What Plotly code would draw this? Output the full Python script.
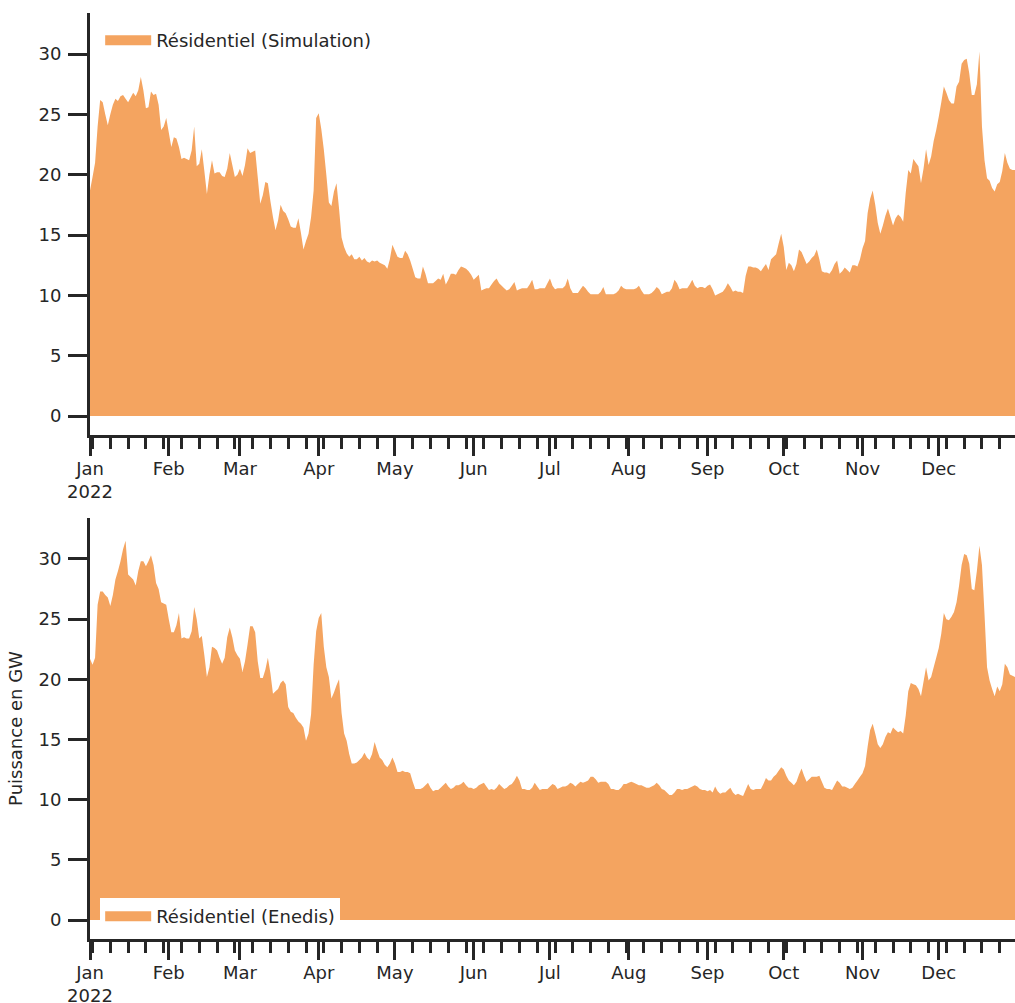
import pandas as pd
import plotly.graph_objects as go
from plotly.subplots import make_subplots

# ---- data (GW, daily 2022) ----
sim_jan = [18.7,19.8,21.0,24.0,26.2,26.0,25.0,24.1,25.0,25.8,26.3,26.1,26.5,26.6,26.3,26.0,26.4,26.8,26.5,27.0,28.1,27.0,25.5,25.6,26.9,26.6,26.7,25.8,23.7,24.0,24.7]
sim_feb = [23.5,22.3,23.1,23.0,22.3,21.3,21.4,21.3,21.2,22.0,24.0,20.7,20.9,22.1,20.3,18.4,20.0,21.2,20.1,20.2,20.2,19.9,19.8,20.5,21.8,20.8,19.8,20.0]
sim_mar = [20.5,19.9,20.8,22.2,21.8,21.9,22.0,19.8,17.6,18.3,19.4,19.3,17.8,16.5,15.4,16.2,17.5,17.0,16.8,16.3,15.7,15.6,15.6,16.4,15.2,13.8,14.5,15.1,16.5,18.7,24.7]
sim_apr = [25.1,23.8,22.1,20.0,17.7,17.4,18.6,19.3,17.2,14.8,14.0,13.5,13.2,13.4,13.0,13.0,13.2,12.9,13.1,12.8,12.7,12.9,12.8,12.9,12.7,12.6,12.5,12.2,13.0,14.2]
sim_may = [13.7,13.2,13.1,13.1,13.7,13.4,12.9,12.2,11.5,11.4,11.4,12.4,11.8,11.0,11.0,11.0,11.2,11.4,11.3,11.8,10.9,11.3,11.8,11.8,11.7,12.1,12.4,12.3,12.2,12.0,11.7]
sim_jun = [11.3,11.5,11.7,10.4,10.5,10.6,10.6,10.9,11.2,11.4,11.0,10.8,10.6,10.4,10.5,10.8,11.1,10.4,10.5,10.6,10.6,10.6,10.9,11.3,10.5,10.5,10.6,10.6,10.6,11.0]
sim_jul = [11.4,10.8,10.5,10.6,10.6,10.6,10.8,11.4,10.6,10.2,10.2,10.2,10.5,10.8,10.6,10.3,10.1,10.1,10.1,10.1,10.3,10.7,10.1,10.1,10.1,10.1,10.2,10.4,10.8,10.6,10.5]
sim_aug = [10.5,10.5,10.5,10.6,10.8,10.4,10.1,10.1,10.1,10.2,10.4,10.7,10.5,10.1,10.2,10.3,10.3,10.6,11.3,11.0,10.5,10.6,10.6,10.6,10.9,11.3,10.8,10.6,10.7,10.7,10.6]
sim_sep = [10.8,10.9,10.5,10.0,10.1,10.2,10.3,10.6,11.0,10.7,10.3,10.4,10.3,10.3,10.2,11.6,12.4,12.4,12.3,12.3,12.2,12.0,12.3,12.6,12.1,13.0,13.2,13.4,14.3,15.1]
sim_oct = [14.0,12.1,12.7,12.5,12.0,12.6,13.8,13.6,13.1,12.6,12.8,13.1,13.3,13.8,13.0,12.0,11.9,11.9,11.8,12.1,12.6,12.9,11.8,12.0,12.3,12.1,11.9,12.5,12.5,12.4,13.0]
sim_nov = [13.9,14.5,16.8,18.0,18.7,17.5,16.0,15.1,15.8,16.6,17.2,16.5,15.8,16.4,16.7,16.5,16.1,18.5,20.4,20.1,21.3,21.0,20.7,19.3,20.5,22.1,20.8,21.5,22.8,23.7]
sim_dec = [24.8,26.0,27.3,26.8,26.2,25.9,25.9,27.3,27.7,29.2,29.5,29.6,28.4,26.6,26.6,27.5,30.2,24.0,21.2,19.7,19.5,18.9,18.6,19.2,19.4,20.3,21.8,21.0,20.5,20.4,20.4]

ene_jan = [21.7,21.2,21.8,26.2,27.3,27.3,27.0,26.8,26.1,27.0,28.3,29.0,29.8,30.8,31.5,28.7,28.5,28.3,27.8,29.0,29.8,29.8,29.4,29.8,30.3,29.5,28.0,27.5,26.4,26.3,26.2]
ene_feb = [25.0,23.9,23.9,24.5,25.5,23.4,23.5,23.4,23.4,24.0,26.0,25.0,23.4,23.6,22.0,20.2,21.0,22.7,22.6,22.4,21.8,21.3,21.8,23.5,24.3,23.5,22.4,22.0]
ene_mar = [21.7,20.6,21.5,22.9,24.4,24.4,23.9,21.5,20.1,20.1,20.8,21.8,20.5,18.8,19.0,19.2,19.7,19.9,19.6,17.7,17.3,17.2,16.8,16.5,16.3,16.0,14.9,15.5,17.1,21.2,24.0]
ene_apr = [25.1,25.5,22.7,21.0,20.2,18.4,18.9,19.5,20.0,17.2,15.5,14.9,13.8,13.0,13.0,13.1,13.3,13.5,13.9,13.5,13.3,13.8,14.8,14.1,13.5,13.3,12.9,12.7,13.0,13.5]
ene_may = [13.0,12.3,12.3,12.4,12.3,12.3,12.2,11.5,10.9,10.9,10.9,11.0,11.2,11.4,11.0,10.7,10.8,10.8,11.0,11.2,11.4,11.1,10.9,11.0,11.2,11.2,11.3,11.5,11.2,11.0,11.0]
ene_jun = [10.9,11.0,11.2,11.3,11.4,11.1,10.8,10.9,10.8,11.0,11.3,11.1,10.9,11.0,11.2,11.3,11.6,12.0,11.6,10.9,10.9,10.8,10.8,11.0,11.4,11.1,10.8,10.9,10.9,10.9]
ene_jul = [11.1,11.3,11.2,10.9,11.0,11.1,11.1,11.2,11.4,11.3,11.1,11.3,11.5,11.4,11.5,11.6,11.9,11.9,11.7,11.4,11.5,11.5,11.5,11.3,10.9,10.9,10.8,10.8,11.0,11.3,11.3]
ene_aug = [11.4,11.5,11.4,11.3,11.2,11.2,11.1,11.0,11.0,11.1,11.2,11.4,11.2,10.9,10.8,10.6,10.4,10.4,10.6,10.9,10.9,10.8,10.9,10.9,11.0,11.1,11.2,11.1,10.9,10.8,10.8]
ene_sep = [10.7,10.8,10.6,11.1,10.7,10.5,10.6,10.6,10.8,11.0,10.6,10.4,10.5,10.4,10.3,10.8,11.3,10.9,10.8,10.9,10.9,10.9,11.3,11.8,11.6,11.6,11.9,12.1,12.4,12.7]
ene_oct = [12.5,12.0,11.6,11.4,11.2,11.5,12.1,12.6,12.0,11.5,11.7,11.9,11.9,11.9,12.0,11.5,11.0,10.9,10.9,10.8,11.2,11.6,11.4,11.1,11.1,11.0,10.9,11.0,11.3,11.6,11.9]
ene_nov = [12.2,12.8,14.4,15.8,16.3,15.5,14.6,14.3,14.6,15.2,15.6,15.5,16.0,15.8,15.6,15.7,15.5,17.0,19.0,19.7,19.6,19.5,19.2,18.6,19.8,21.0,19.9,20.2,21.0,21.8]
ene_dec = [22.6,23.8,25.5,25.0,24.9,25.2,25.6,26.4,27.8,29.5,30.4,30.3,29.6,27.5,27.4,29.0,31.1,29.5,25.4,21.0,19.9,19.2,18.6,19.4,19.0,19.6,21.3,21.0,20.4,20.3,20.2]

month_starts = ["2022-01-01","2022-02-01","2022-03-01","2022-04-01","2022-05-01","2022-06-01",
                "2022-07-01","2022-08-01","2022-09-01","2022-10-01","2022-11-01","2022-12-01"]
month_labels = ["Jan<br>2022","Feb","Mar","Apr","May","Jun","Jul","Aug","Sep","Oct","Nov","Dec"]
y_ticks = [0, 5, 10, 15, 20, 25, 30]
names = ["Résidentiel (Simulation)", "Résidentiel (Enedis)"]

simulation = sim_jan+sim_feb+sim_mar+sim_apr+sim_may+sim_jun+sim_jul+sim_aug+sim_sep+sim_oct+sim_nov+sim_dec
enedis = ene_jan+ene_feb+ene_mar+ene_apr+ene_may+ene_jun+ene_jul+ene_aug+ene_sep+ene_oct+ene_nov+ene_dec
dates = pd.date_range("2022-01-01", periods=len(simulation), freq="D")
dates_e = pd.date_range("2022-01-01", periods=len(enedis), freq="D")

COLOR = "#f4a460"
INK = "#262626"
FONT = "DejaVu Sans"
FS = 18

fig = make_subplots(rows=2, cols=1, vertical_spacing=0.09)
# area series
fig.add_trace(go.Scatter(x=dates, y=simulation, mode="none", fill="tozeroy", fillcolor=COLOR,
                         name=names[0], showlegend=False), row=1, col=1)
fig.add_trace(go.Scatter(x=dates_e, y=enedis, mode="none", fill="tozeroy", fillcolor=COLOR,
                         name=names[1], showlegend=False), row=2, col=1)
# legend entries (thick line icon = rectangular patch)
fig.add_trace(go.Scatter(x=[None], y=[None], mode="lines", line=dict(color=COLOR, width=13),
                         name=names[0], showlegend=True, legend="legend"), row=1, col=1)
fig.add_trace(go.Scatter(x=[None], y=[None], mode="lines", line=dict(color=COLOR, width=13),
                         name=names[1], showlegend=True, legend="legend2"), row=2, col=1)

H = 1003
t, b = 13, 64
ph = H - t - b
top_dom = [(939 - 435) / ph, 1.0]
bot_dom = [0.0, (939 - 518) / ph]

xcommon = dict(
    range=["2022-01-01", "2022-12-31"], tickmode="array", tickvals=month_starts, ticktext=month_labels,
    showline=True, linecolor=INK, linewidth=3, ticks="outside", ticklen=18, tickwidth=3, tickcolor=INK,
    showgrid=False, zeroline=False, tickfont=dict(family=FONT, size=FS, color=INK), automargin=False,
    ticklabelstandoff=-3,
    minor=dict(ticks="outside", ticklen=11, tickwidth=2.5, tickcolor=INK,
               dtick=7 * 86400000, tick0="2022-01-02", showgrid=False),
)
ycommon = dict(
    range=[-1.57, 33.4], tickmode="array", tickvals=y_ticks,
    showline=True, linecolor=INK, linewidth=3, ticks="outside", ticklen=19, tickwidth=3, tickcolor=INK,
    showgrid=False, zeroline=False, tickfont=dict(family=FONT, size=FS, color=INK), automargin=False,
    ticklabelstandoff=3,
)
fig.update_xaxes(**xcommon)
fig.update_yaxes(**ycommon)
fig.update_yaxes(domain=top_dom, row=1, col=1)
fig.update_yaxes(domain=bot_dom, row=2, col=1,
                 title=dict(text="Puissance en GW", font=dict(family=FONT, size=FS, color=INK), standoff=12))

leg_common = dict(xanchor="left", bgcolor="white", borderwidth=0, itemwidth=46,
                  font=dict(family=FONT, size=FS, color=INK))
fig.update_layout(
    width=1015, height=H,
    margin=dict(l=90, r=0, t=t, b=b, autoexpand=False),
    paper_bgcolor="white", plot_bgcolor="white",
    font=dict(family=FONT, size=FS, color=INK),
    showlegend=True,
    legend=dict(x=0.011, y=1.0 - 9 / ph, yanchor="top", **leg_common),
    legend2=dict(x=0.011, y=4 / ph, yanchor="bottom", **leg_common),
)

fig.write_html("out.html", config={"displayModeBar": False},
               post_script="document.body.style.margin='0px';document.body.style.overflow='hidden';")
